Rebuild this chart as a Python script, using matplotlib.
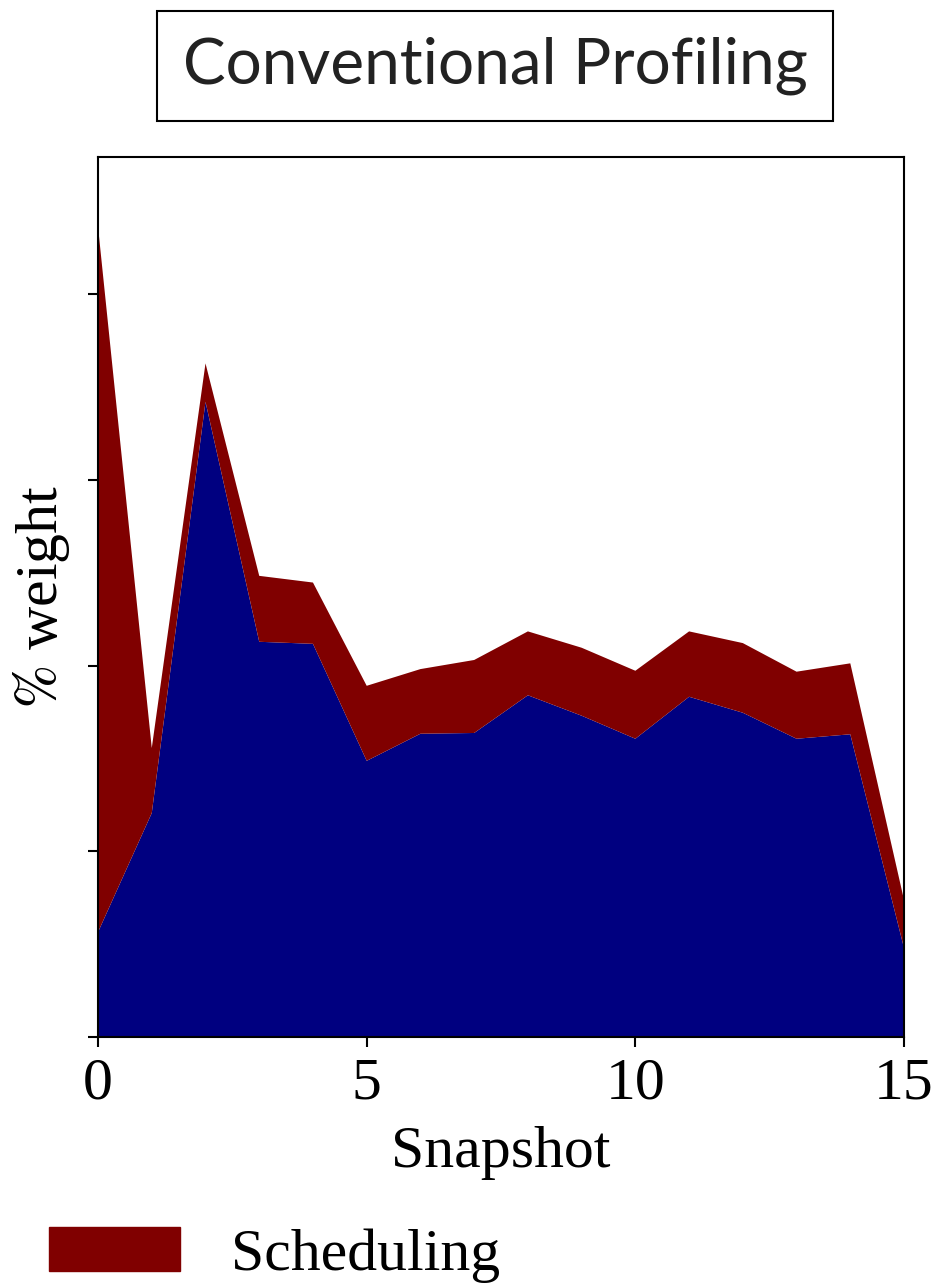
import matplotlib
matplotlib.use("Agg")
import matplotlib.pyplot as plt
import matplotlib.patches as mpatches
import numpy as np

plt.rcParams['font.family'] = ['Liberation Serif', 'DejaVu Serif']
plt.rcParams['mathtext.fontset'] = 'stix'

# data (% weight per snapshot)
snapshots = np.arange(16)
other = [5.65, 12.06, 34.20, 21.28, 21.17, 14.87, 16.33, 16.37,
         18.40, 17.30, 16.06, 18.32, 17.46, 16.06, 16.30, 4.79]
scheduling = [37.97, 3.50, 2.07, 3.55, 3.30, 4.04, 3.48, 3.93,
              3.44, 3.66, 3.66, 3.52, 3.75, 3.61, 3.82, 2.59]
y_ticks = [0, 10, 20, 30, 40]
x_ticks = [0, 5, 10, 15]

fig = plt.figure(figsize=(9.5, 12.86), dpi=100)
ax = fig.add_axes([0.1032, 0.1936, 0.8484, 0.6843])

ax.stackplot(snapshots, other, scheduling, colors=['#000080', '#800000'])
ax.set_xlim(0, 15)
ax.set_ylim(0, 47.38)
ax.set_xticks(x_ticks)
ax.set_yticks(y_ticks)
ax.set_yticklabels([])
ax.tick_params(labelsize=43, length=7, width=1.5, direction='out')
ax.tick_params(axis='x', pad=8)
for s in ax.spines.values():
    s.set_linewidth(1.5)

ax.set_xlabel('Snapshot', fontsize=43, labelpad=10)
ax.set_ylabel(r'$\%$ weight', fontsize=43, labelpad=8)

fig.text(0.521, 0.9487, 'Conventional Profiling', ha='center', va='center',
         fontsize=46, family=['Lato', 'DejaVu Sans'], color='#222222',
         bbox=dict(boxstyle='square,pad=0.4', facecolor='white',
                   edgecolor='black', linewidth=1.5))

handle = mpatches.Patch(color='#800000', label='Scheduling')
fig.legend(handles=[handle], loc='center left', bbox_to_anchor=(-0.005, 0.024),
           fontsize=43, frameon=False, handlelength=2.2, handleheight=0.75,
           handletextpad=0.85)

fig.savefig('out.png', dpi=100)
